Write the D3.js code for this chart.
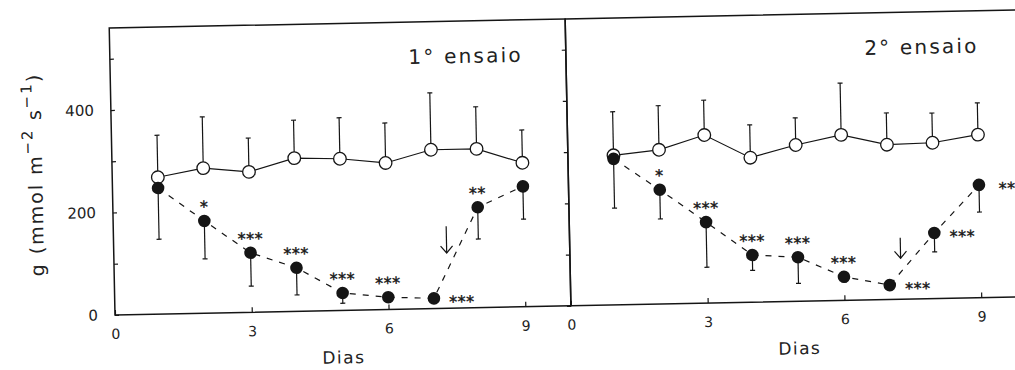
<!DOCTYPE html>
<html>
<head>
<meta charset="utf-8">
<script src="https://cdn.jsdelivr.net/npm/d3@7/dist/d3.min.js"></script>
<style>
  html, body { margin: 0; padding: 0; background: #fff; }
  svg { display: block; }
  text { font-family: "DejaVu Sans", sans-serif; fill: #222; }
</style>
</head>
<body>
<svg id="chart" width="1015" height="370"></svg>
<script>
// Stomatal conductance g (mmol m-2 s-1) over days, control vs. water-stressed plants
const days = [1, 2, 3, 4, 5, 6, 7, 8, 9];

// 1st trial
const control1   = [267, 283, 274, 299, 296, 286, 310, 310, 281];
const control1Sd = [82, 100, 66, 74, 80, 78, 111, 82, 64];
const stress1    = [246, 180, 116, 85, 34, 24, 20, 196, 235];
const stress1Sd  = [100, 74, 65, 53, 20, 8, 8, 62, 64];
const stars1     = ["", "*", "***", "***", "***", "***", "***", "**", ""];

// 2nd trial
const control2   = [292, 301, 328, 282, 305, 323, 302, 304, 318];
const control2Sd = [85, 86, 68, 64, 53, 101, 62, 58, 62];
const stress2    = [285, 223, 158, 92, 86, 46, 28, 128, 220];
const stress2Sd  = [96, 57, 88, 30, 51, 10, 8, 37, 53];
const stars2     = ["", "*", "***", "***", "***", "***", "***", "***", "**"];

// rewatering arrow (day, top value, bottom value)
const arrowDay    = [7.3, 7.25];
const arrowTop    = [160, 120];
const arrowBottom = [108, 80];

const panelTitles = ["1° ensaio", "2° ensaio"];
const xTicks = [0, 3, 6, 9];
const yTicks = [0, 100, 200, 300, 400, 500];
const yLabels = [0, 200, 400];
const xDomain = [0, 10];
const yDomain = [0, 560];

const panels = [
  { control: control1, controlSd: control1Sd, stress: stress1, stressSd: stress1Sd,
    stars: stars1, starsRight: [7], title: panelTitles[0],
    arrow: { day: arrowDay[0], top: arrowTop[0], bottom: arrowBottom[0] } },
  { control: control2, controlSd: control2Sd, stress: stress2, stressSd: stress2Sd,
    stars: stars2, starsRight: [7, 8, 9], title: panelTitles[1],
    arrow: { day: arrowDay[1], top: arrowTop[1], bottom: arrowBottom[1] } }
];

// layout
const originX = 115, baseY = 315, panelW = 456, panelH = 287;
const ink = "#151515";

const svg = d3.select("#chart");
svg.append("rect").attr("width", 1015).attr("height", 370).attr("fill", "#fff");

// the whole figure sits slightly tilted
const fig = svg.append("g").attr("transform", `rotate(-1.15 ${originX} ${baseY})`);

const x = d3.scaleLinear().domain(xDomain).range([0, panelW]);
const y = d3.scaleLinear().domain(yDomain).range([panelH, 0]);

panels.forEach((p, i) => {
  const g = fig.append("g")
    .attr("transform", `translate(${originX + i * panelW},${baseY - panelH})`);

  // frame
  g.append("rect")
    .attr("width", panelW).attr("height", panelH)
    .attr("fill", "none").attr("stroke", ink).attr("stroke-width", 1.5);

  // x axis
  const xAxis = d3.axisBottom(x).tickValues(xTicks).tickSize(-5).tickPadding(14)
    .tickFormat(d3.format("d"));
  const gx = g.append("g").attr("transform", `translate(0,${panelH})`).call(xAxis);
  gx.select(".domain").remove();
  gx.selectAll(".tick line").attr("stroke", ink).attr("stroke-width", 1.2);
  gx.selectAll(".tick text").attr("font-size", 14).attr("font-family", "DejaVu Sans")
    .attr("fill", "#222");

  // y axis
  const yAxis = (i === 0 ? d3.axisLeft(y).tickSize(-4) : d3.axisLeft(y).tickSize(4))
    .tickValues(yTicks).tickPadding(17)
    .tickFormat(d => (i === 0 && yLabels.includes(d)) ? d : "");
  const gy = g.append("g").call(yAxis);
  gy.select(".domain").remove();
  gy.selectAll(".tick line").attr("stroke", ink).attr("stroke-width", 1.2);
  gy.selectAll(".tick text").attr("font-size", 15).attr("font-family", "DejaVu Sans")
    .attr("fill", "#222");

  // x axis title
  g.append("text")
    .attr("x", x(5)).attr("y", panelH + 47)
    .attr("text-anchor", "middle").attr("dominant-baseline", "central")
    .attr("font-size", 17).attr("letter-spacing", 1.5)
    .text("Dias");

  // panel title
  g.append("text")
    .attr("x", panelW * 0.78).attr("y", 35)
    .attr("text-anchor", "middle").attr("dominant-baseline", "central")
    .attr("font-size", 20).attr("letter-spacing", 2.2)
    .text(p.title);

  // control series: solid line, upward SD bars, open circles
  const lineC = d3.line().x((d, k) => x(days[k])).y(d => y(d));
  g.append("path").datum(p.control)
    .attr("d", lineC).attr("fill", "none").attr("stroke", ink).attr("stroke-width", 1.2);

  const barsC = g.append("g").attr("stroke", ink).attr("stroke-width", 1.2);
  p.control.forEach((v, k) => {
    const cx = x(days[k]);
    barsC.append("line").attr("x1", cx).attr("x2", cx)
      .attr("y1", y(v)).attr("y2", y(v + p.controlSd[k]));
    barsC.append("line").attr("x1", cx - 2.5).attr("x2", cx + 2.5)
      .attr("y1", y(v + p.controlSd[k])).attr("y2", y(v + p.controlSd[k]));
  });

  g.append("g").selectAll("circle").data(p.control).join("circle")
    .attr("cx", (d, k) => x(days[k])).attr("cy", d => y(d)).attr("r", 6.3)
    .attr("fill", "#fff").attr("stroke", ink).attr("stroke-width", 1.3);

  // stressed series: dashed line, downward SD bars, filled circles
  g.append("path").datum(p.stress)
    .attr("d", lineC).attr("fill", "none").attr("stroke", ink)
    .attr("stroke-width", 1.2).attr("stroke-dasharray", "6,7");

  const barsS = g.append("g").attr("stroke", ink).attr("stroke-width", 1.2);
  p.stress.forEach((v, k) => {
    const cx = x(days[k]);
    const lo = Math.max(0, v - p.stressSd[k]);
    barsS.append("line").attr("x1", cx).attr("x2", cx)
      .attr("y1", y(v)).attr("y2", y(lo));
    barsS.append("line").attr("x1", cx - 2.5).attr("x2", cx + 2.5)
      .attr("y1", y(lo)).attr("y2", y(lo));
  });

  g.append("g").selectAll("circle").data(p.stress).join("circle")
    .attr("cx", (d, k) => x(days[k])).attr("cy", d => y(d)).attr("r", 6.3)
    .attr("fill", ink);

  // significance asterisks
  g.append("g").selectAll("text").data(p.stars).join("text")
    .attr("x", (d, k) => x(days[k]) + (p.starsRight.includes(days[k]) ? 28 : 0))
    .attr("y", (d, k) => y(p.stress[k]) + (p.starsRight.includes(days[k]) ? 4 : -14))
    .attr("text-anchor", "middle").attr("dominant-baseline", "central")
    .attr("font-size", 16).attr("letter-spacing", 0.5)
    .attr("fill", "#111").attr("stroke", "#111").attr("stroke-width", 0.4)
    .text(d => d);

  // rewatering arrow
  const ax = x(p.arrow.day), ay0 = y(p.arrow.top), ay1 = y(p.arrow.bottom);
  const ga = g.append("g").attr("stroke", ink).attr("stroke-width", 1.2).attr("fill", "none");
  ga.append("line").attr("x1", ax).attr("x2", ax).attr("y1", ay0).attr("y2", ay1);
  ga.append("path").attr("d", `M${ax - 6},${ay1 - 7}L${ax},${ay1}L${ax + 6},${ay1 - 7}`);
});

// y axis title
const yTitle = fig.append("text")
  .attr("transform", `translate(38,${baseY - 142}) rotate(-90)`)
  .attr("text-anchor", "middle").attr("dominant-baseline", "central")
  .attr("font-size", 19).attr("letter-spacing", 2);
yTitle.append("tspan").text("g (mmol m");
yTitle.append("tspan").attr("font-size", 15).attr("dy", -7).text("−2");
yTitle.append("tspan").attr("dy", 7).text(" s");
yTitle.append("tspan").attr("font-size", 15).attr("dy", -7).text("−1");
yTitle.append("tspan").attr("dy", 7).text(")");
</script>
</body>
</html>
